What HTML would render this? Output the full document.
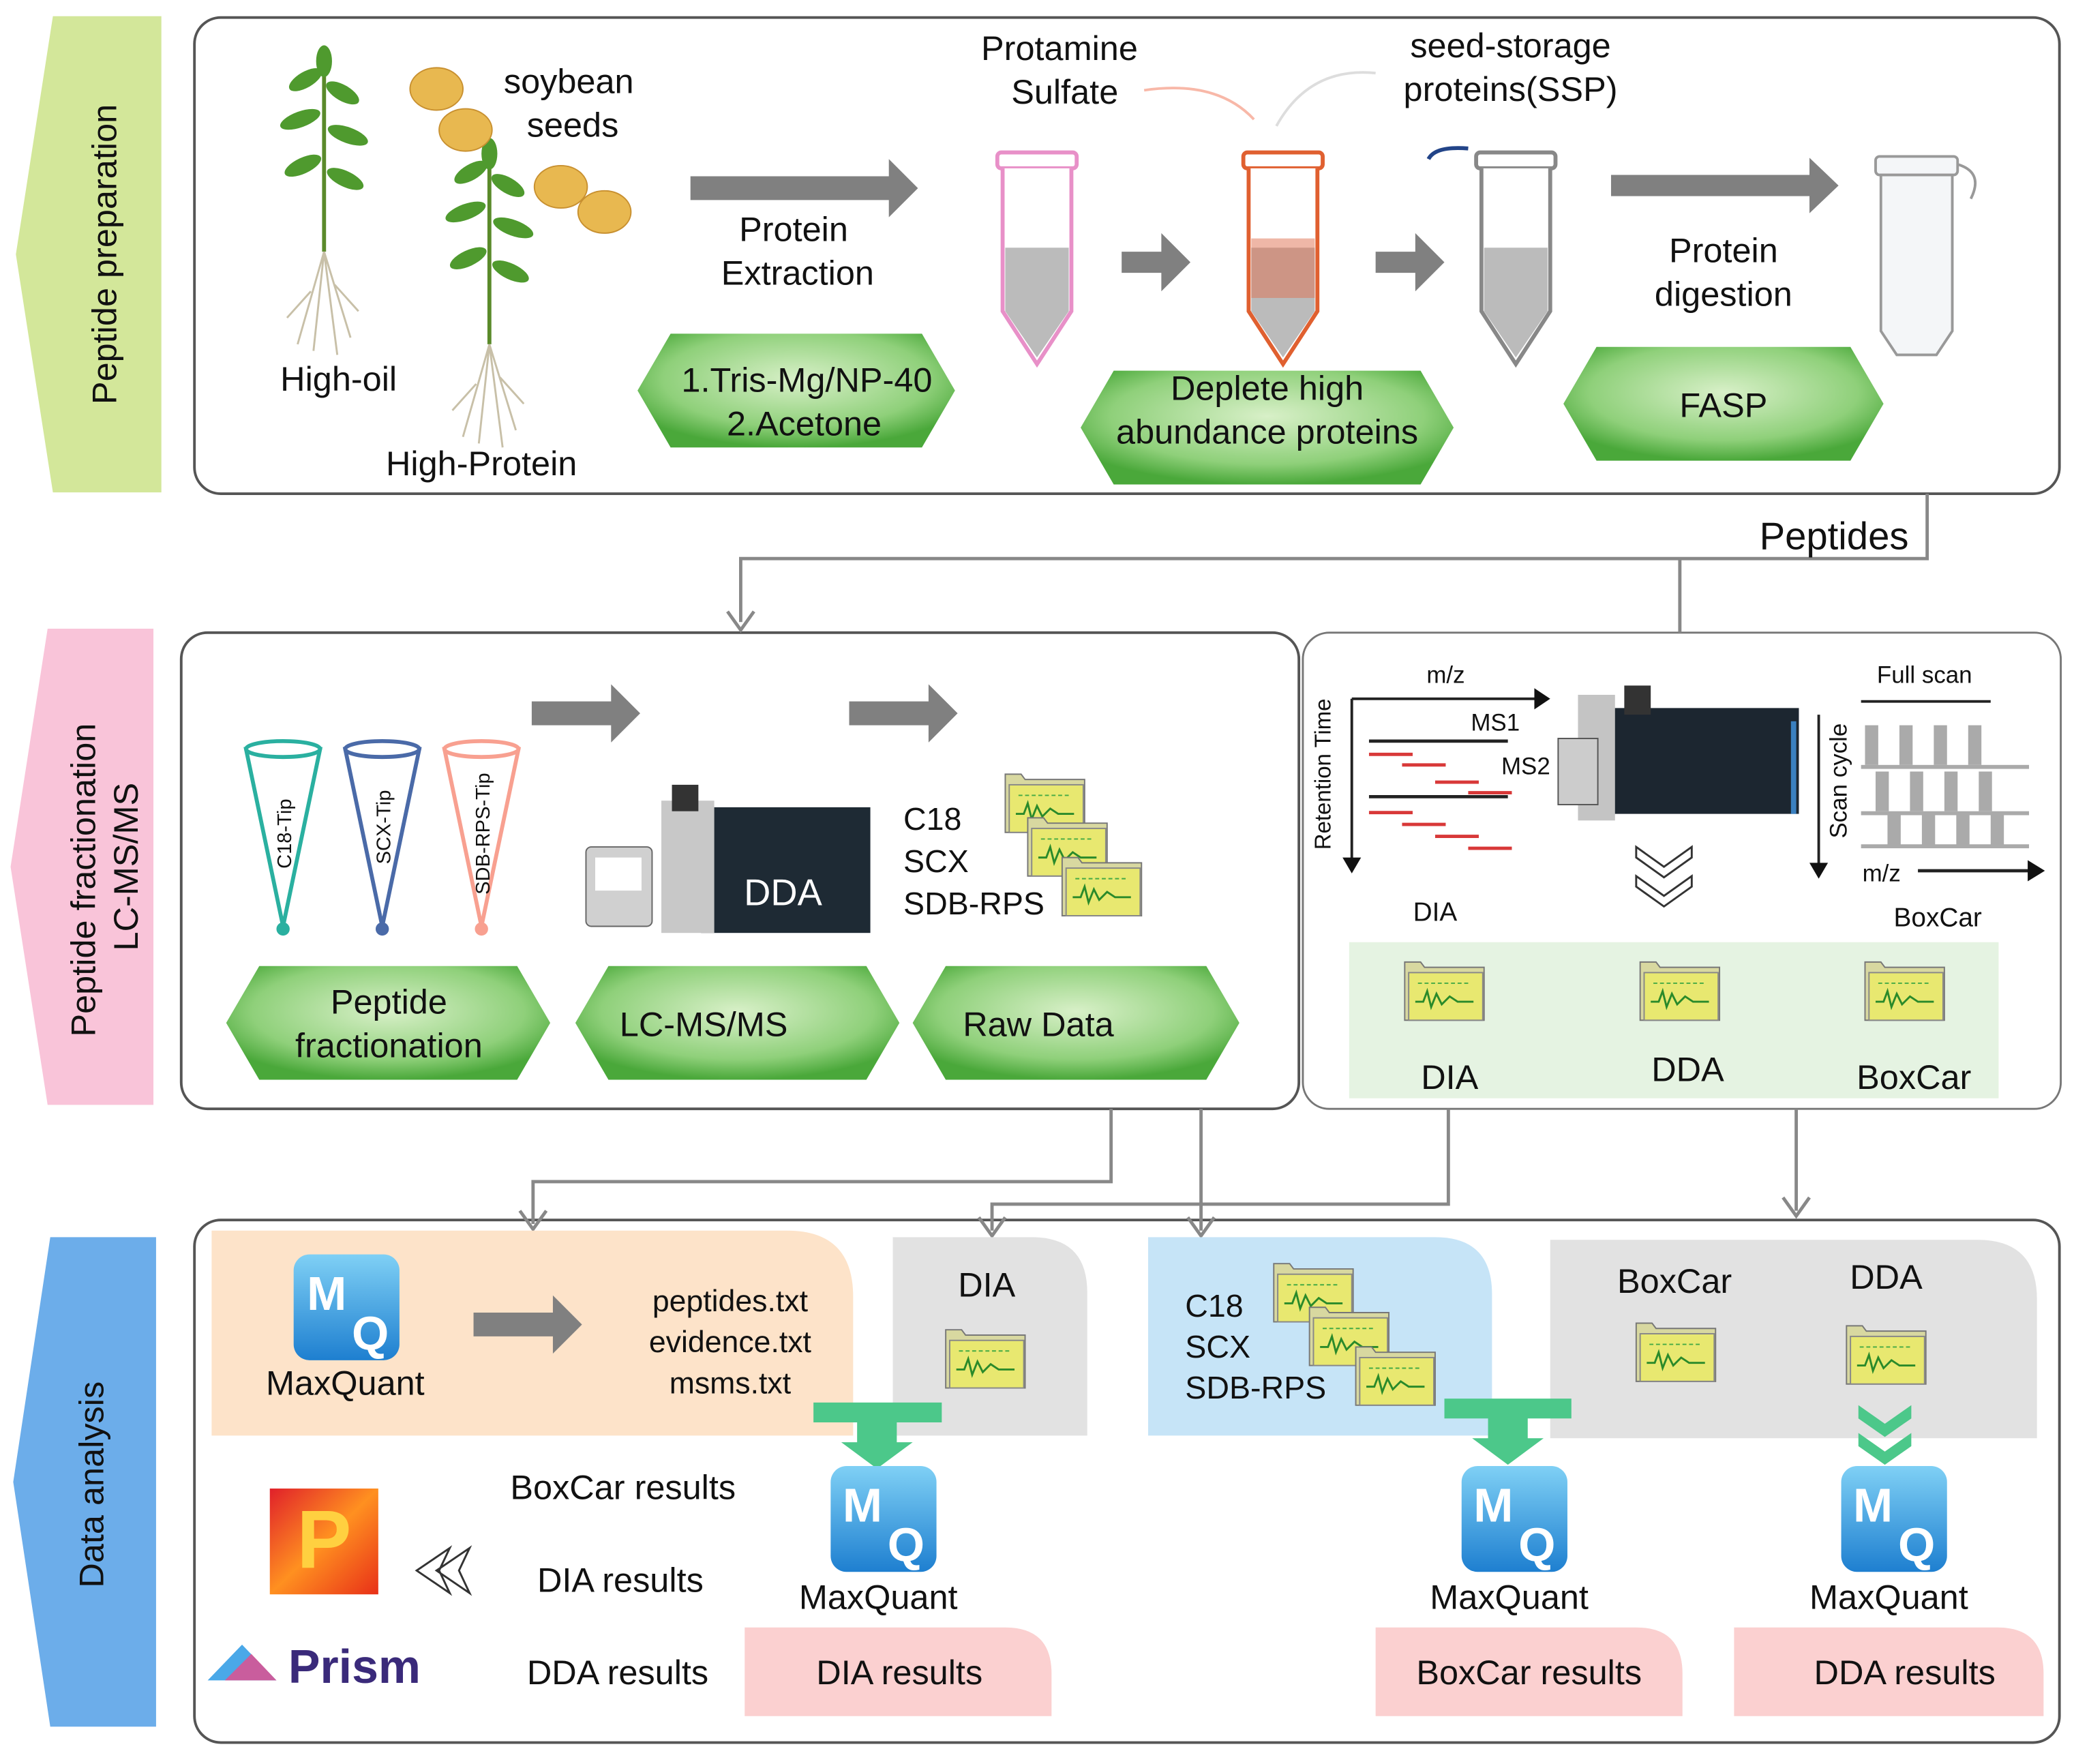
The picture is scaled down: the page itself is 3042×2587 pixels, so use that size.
<!DOCTYPE html>
<html><head><meta charset="utf-8"><style>html,body{margin:0;padding:0;background:#fff}svg{display:block}text{font-family:"Liberation Sans",sans-serif;fill:#111}</style></head><body>
<svg width="3042" height="2587" viewBox="0 0 1568 1333" xmlns="http://www.w3.org/2000/svg">
<defs>
<radialGradient id="hg" cx="50%" cy="40%" r="60%"><stop offset="0" stop-color="#d8f0c8"/><stop offset="0.7" stop-color="#8fd07a"/><stop offset="1" stop-color="#4aa83a"/></radialGradient>
<linearGradient id="mq" x1="0" y1="0" x2="0" y2="1"><stop offset="0" stop-color="#7fd0f5"/><stop offset="1" stop-color="#1e7fd0"/></linearGradient>
<linearGradient id="pg" x1="0" y1="0" x2="1" y2="1"><stop offset="0" stop-color="#e0202a"/><stop offset="0.5" stop-color="#ff9020"/><stop offset="1" stop-color="#e83018"/></linearGradient>
<g id="fold"><path d="M0 6 L0 0 L12 0 L15 4 L60 4 L60 44 L0 44Z" fill="#d8d8a0" stroke="#777"/><rect x="3" y="8" width="56" height="36" fill="#e8e870" stroke="#888"/><path d="M8 30 L14 30 L17 22 L20 34 L24 24 L28 32 L34 26 L40 30 L52 30" fill="none" stroke="#2a8a2a" stroke-width="1.5"/><path d="M10 16 h40" stroke="#4a4" stroke-dasharray="3 2"/></g>
<g id="tube"><rect x="-30" y="-10" width="60" height="12" rx="3" fill="none" stroke-width="3"/><path d="M-26 2 L-26 110 L0 150 L26 110 L26 2" fill="#fff" stroke-width="3"/><path d="M-24 62 L24 62 L24 110 L0 145 L-24 110Z" fill="#bbb" stroke="none"/></g>
<g id="plant"><path d="M0 0 L0 150" stroke="#5a8a2a" stroke-width="3"/><g fill="#4f9a2e"><ellipse cx="-14" cy="20" rx="14" ry="6" transform="rotate(-30 -14 20)"/><ellipse cx="14" cy="30" rx="14" ry="6" transform="rotate(30 14 30)"/><ellipse cx="-18" cy="50" rx="16" ry="6" transform="rotate(-20 -18 50)"/><ellipse cx="18" cy="62" rx="16" ry="6" transform="rotate(20 18 62)"/><ellipse cx="-16" cy="85" rx="15" ry="6" transform="rotate(-25 -16 85)"/><ellipse cx="16" cy="95" rx="15" ry="6" transform="rotate(25 16 95)"/><ellipse cx="0" cy="6" rx="6" ry="12"/></g><g stroke="#c8c0a8" stroke-width="1.5" fill="none"><path d="M0 150 L-20 220 M0 150 L20 215 M0 150 L-8 225 M0 150 L10 228 M-10 180 L-28 200 M8 175 L26 195"/></g></g>
</defs>

<polygon points="122,12 40,12 12,192 40,372 122,372" fill="#d3e79a"/>
<text transform="translate(88,192) rotate(-90)" text-anchor="middle" font-size="26">Peptide preparation</text>
<polygon points="116,475 36,475 8,655 36,835 116,835" fill="#f9c4d9"/>
<text transform="translate(72,665) rotate(-90)" text-anchor="middle" font-size="26">Peptide fractionation</text>
<text transform="translate(104,655) rotate(-90)" text-anchor="middle" font-size="26">LC-MS/MS</text>
<polygon points="118,935 38,935 10,1120 38,1305 118,1305" fill="#6cadea"/>
<text transform="translate(78,1122) rotate(-90)" text-anchor="middle" font-size="26">Data analysis</text>

<rect x="147" y="13" width="1410" height="360" rx="20" fill="none" stroke="#555" stroke-width="2"/>
<rect x="137" y="478" width="845" height="360" rx="20" fill="none" stroke="#555" stroke-width="2"/>
<rect x="985" y="478" width="573" height="360" rx="20" fill="none" stroke="#777" stroke-width="1.5"/>
<rect x="147" y="922" width="1410" height="395" rx="20" fill="none" stroke="#555" stroke-width="2"/>

<g stroke="#888" stroke-width="2.5" fill="none">
<path d="M1457 373 V422 H560 V470"/><path d="M1270 422 V478"/>
<path d="M840 838 V893 H403 V925"/><path d="M908 838 V930"/>
<path d="M1095 838 V910 H750 V930"/><path d="M1358 838 V915"/>
<path d="M550 462 L560 476 L570 462 M393 915 L403 929 L413 915 M898 920 L908 934 L918 920 M740 920 L750 934 L760 920 M1348 905 L1358 919 L1368 905"/>
</g>
<text x="1443" y="415" text-anchor="end" font-size="29">Peptides</text>

<use href="#plant" x="245" y="40"/>
<use href="#plant" x="370" y="110"/>
<g fill="#e8b850" stroke="#c89030"><ellipse cx="330" cy="67" rx="20" ry="16"/><ellipse cx="352" cy="98" rx="20" ry="16"/><ellipse cx="424" cy="141" rx="20" ry="16"/><ellipse cx="457" cy="160" rx="20" ry="16"/></g>
<text x="430" y="70" text-anchor="middle" font-size="26">soybean</text>
<text x="433" y="103" text-anchor="middle" font-size="26">seeds</text>
<text x="256" y="295" text-anchor="middle" font-size="26">High-oil</text>
<text x="364" y="359" text-anchor="middle" font-size="26">High-Protein</text>
<path d="M522 133 H672 V120 L694 142 L672 164 V151 H522Z" fill="#808080"/>
<text x="600" y="182" text-anchor="middle" font-size="26">Protein</text>
<text x="603" y="215" text-anchor="middle" font-size="26">Extraction</text>
<polygon points="507,252 697,252 722,295 697,338 507,338 482,295" fill="url(#hg)"/>
<text x="610" y="296" text-anchor="middle" font-size="26">1.Tris-Mg/NP-40</text>
<text x="608" y="329" text-anchor="middle" font-size="26">2.Acetone</text>
<use href="#tube" x="784" y="125" stroke="#e890c8"/>
<path d="M848 190 h30 v-14 l22 22 l-22 22 v-14 h-30z" fill="#808080"/>
<use href="#tube" x="970" y="125" stroke="#e06030"/>
<rect x="946" y="180" width="48" height="45" fill="#e07050" opacity="0.5"/>
<path d="M1040 190 h30 v-14 l22 22 l-22 22 v-14 h-30z" fill="#808080"/>
<use href="#tube" x="1146" y="125" stroke="#888"/>
<path d="M1080 120 Q1085 110 1110 112" stroke="#224488" stroke-width="3" fill="none"/>
<path d="M1218 132 H1368 V119 L1390 140 L1368 161 V148 H1218Z" fill="#808080"/>
<text x="1303" y="198" text-anchor="middle" font-size="26">Protein</text>
<text x="1303" y="231" text-anchor="middle" font-size="26">digestion</text>
<g stroke="#999" stroke-width="2" fill="#f4f6f8"><rect x="1418" y="118" width="62" height="14" rx="3"/><path d="M1422 132 V250 L1434 268 H1464 L1476 250 V132Z"/><path d="M1480 124 Q1500 130 1490 150" fill="none"/></g>
<text x="801" y="45" text-anchor="middle" font-size="26">Protamine</text>
<text x="805" y="78" text-anchor="middle" font-size="26">Sulfate</text>
<text x="1142" y="43" text-anchor="middle" font-size="26">seed-storage</text>
<text x="1142" y="76" text-anchor="middle" font-size="26">proteins(SSP)</text>
<path d="M865 68 Q920 60 948 90" stroke="#f8b8a8" stroke-width="2" fill="none"/>
<path d="M965 95 Q990 50 1040 55" stroke="#ddd" stroke-width="2" fill="none"/>
<polygon points="842,280 1074,280 1099,323 1074,366 842,366 817,323" fill="url(#hg)"/>
<text x="958" y="302" text-anchor="middle" font-size="26">Deplete high</text>
<text x="958" y="335" text-anchor="middle" font-size="26">abundance proteins</text>
<polygon points="1207,262 1399,262 1424,305 1399,348 1207,348 1182,305" fill="url(#hg)"/>
<text x="1303" y="315" text-anchor="middle" font-size="26">FASP</text>

<g stroke-width="3" fill="#fff">
<path d="M186 566 L242 566 L214 700Z" stroke="#2ab0a0"/><ellipse cx="214" cy="566" rx="28" ry="6" stroke="#2ab0a0"/><circle cx="214" cy="702" r="5" fill="#2ab0a0" stroke="none"/>
<path d="M261 566 L317 566 L289 700Z" stroke="#4a6aa8"/><ellipse cx="289" cy="566" rx="28" ry="6" stroke="#4a6aa8"/><circle cx="289" cy="702" r="5" fill="#4a6aa8" stroke="none"/>
<path d="M336 566 L392 566 L364 700Z" stroke="#f8a090"/><ellipse cx="364" cy="566" rx="28" ry="6" stroke="#f8a090"/><circle cx="364" cy="702" r="5" fill="#f8a090" stroke="none"/>
</g>
<text transform="translate(220,630) rotate(-90)" text-anchor="middle" font-size="15">C18-Tip</text>
<text transform="translate(295,625) rotate(-90)" text-anchor="middle" font-size="15">SCX-Tip</text>
<text transform="translate(370,630) rotate(-90)" text-anchor="middle" font-size="15">SDB-RPS-Tip</text>
<path d="M402 530 H462 V517 L484 539 L462 561 V548 H402Z" fill="#808080"/>
<path d="M642 530 H702 V517 L724 539 L702 561 V548 H642Z" fill="#808080"/>
<rect x="530" y="610" width="128" height="95" fill="#1e2a34"/><rect x="500" y="605" width="40" height="100" fill="#c8c8c8"/><rect x="508" y="593" width="20" height="20" fill="#333"/><rect x="443" y="640" width="50" height="60" rx="4" fill="#d0d0d0" stroke="#666"/><rect x="450" y="648" width="35" height="25" fill="#fff"/>
<text x="592" y="684" text-anchor="middle" font-size="28" style="fill:#fff">DDA</text>
<text x="683" y="627" font-size="24">C18</text><text x="683" y="659" font-size="24">SCX</text><text x="683" y="691" font-size="24">SDB-RPS</text>
<use href="#fold" x="760" y="585"/><use href="#fold" x="777" y="618"/><use href="#fold" x="803" y="648"/>
<polygon points="196,730 391,730 416,773 391,816 196,816 171,773" fill="url(#hg)"/>
<text x="294" y="766" text-anchor="middle" font-size="26">Peptide</text>
<text x="294" y="799" text-anchor="middle" font-size="26">fractionation</text>
<polygon points="460,730 655,730 680,773 655,816 460,816 435,773" fill="url(#hg)"/>
<text x="532" y="783" text-anchor="middle" font-size="26">LC-MS/MS</text>
<polygon points="715,730 912,730 937,773 912,816 715,816 690,773" fill="url(#hg)"/>
<text x="785" y="783" text-anchor="middle" font-size="26">Raw Data</text>

<path d="M1022 528 H1163" stroke="#222" stroke-width="2"/><path d="M1160 520 L1172 528 L1160 536Z" fill="#111"/>
<path d="M1022 528 V650" stroke="#222" stroke-width="2"/><path d="M1015 648 L1022 660 L1029 648Z" fill="#111"/>
<text x="1093" y="516" text-anchor="middle" font-size="18">m/z</text>
<text transform="translate(1006,585) rotate(-90)" text-anchor="middle" font-size="17">Retention Time</text>
<text x="1112" y="552" font-size="18">MS1</text><text x="1135" y="585" font-size="18">MS2</text>
<g stroke-width="2.5"><path d="M1035 560 H1140 M1035 602 H1140" stroke="#222"/><path d="M1035 570 H1068 M1060 578 H1093 M1085 591 H1118 M1110 599 H1143 M1035 614 H1068 M1060 623 H1093 M1085 632 H1118 M1110 641 H1143" stroke="#d83838"/></g>
<rect x="1215" y="535" width="145" height="80" fill="#1c2630"/><rect x="1193" y="525" width="28" height="95" fill="#c4c4c4"/><rect x="1228" y="518" width="20" height="22" fill="#333"/><rect x="1178" y="558" width="30" height="50" fill="#ccc" stroke="#555"/><path d="M1356 545 V615" stroke="#3a80c0" stroke-width="4"/>
<g fill="none" stroke="#333" stroke-width="1.5"><path d="M1237 640 L1258 655 L1279 640 L1279 648 L1258 663 L1237 648Z"/><path d="M1237 662 L1258 677 L1279 662 L1279 670 L1258 685 L1237 670Z"/></g>
<text x="1455" y="516" text-anchor="middle" font-size="18">Full scan</text>
<path d="M1407 530 H1505" stroke="#222" stroke-width="2"/>
<g fill="#aaa"><rect x="1407" y="578" width="127" height="3"/><rect x="1407" y="613" width="127" height="3"/><rect x="1407" y="638" width="127" height="3"/>
<rect x="1410" y="548" width="10" height="30"/><rect x="1436" y="548" width="10" height="30"/><rect x="1462" y="548" width="10" height="30"/><rect x="1488" y="548" width="10" height="30"/>
<rect x="1418" y="583" width="10" height="30"/><rect x="1444" y="583" width="10" height="30"/><rect x="1470" y="583" width="10" height="30"/><rect x="1496" y="583" width="10" height="30"/>
<rect x="1427" y="615" width="10" height="25"/><rect x="1453" y="615" width="10" height="25"/><rect x="1479" y="615" width="10" height="25"/><rect x="1505" y="615" width="10" height="25"/></g>
<path d="M1375 540 V655" stroke="#222" stroke-width="2"/><path d="M1368 652 L1375 664 L1382 652Z" fill="#111"/>
<text transform="translate(1396,590) rotate(-90)" text-anchor="middle" font-size="18">Scan cycle</text>
<text x="1408" y="666" font-size="18">m/z</text>
<path d="M1450 658 H1535" stroke="#222" stroke-width="2.5"/><path d="M1533 650 L1546 658 L1533 666Z" fill="#111"/>
<text x="1085" y="696" text-anchor="middle" font-size="20">DIA</text>
<text x="1465" y="700" text-anchor="middle" font-size="20">BoxCar</text>
<rect x="1020" y="712" width="491" height="118" fill="#e5f3e2"/>
<use href="#fold" x="1062" y="727"/><use href="#fold" x="1240" y="727"/><use href="#fold" x="1410" y="727"/>
<text x="1096" y="823" text-anchor="middle" font-size="26">DIA</text>
<text x="1276" y="817" text-anchor="middle" font-size="26">DDA</text>
<text x="1447" y="823" text-anchor="middle" font-size="26">BoxCar</text>

<path d="M160 930 H595 Q645 930 645 980 V1085 H160Z" fill="#fde3c9"/>
<path d="M675 935 H780 Q822 935 822 977 V1085 H675Z" fill="#e2e2e2"/>
<path d="M868 935 H1085 Q1128 935 1128 978 V1085 H868Z" fill="#c6e4f7"/>
<path d="M1172 937 H1495 Q1540 937 1540 982 V1087 H1172Z" fill="#e2e2e2"/>
<path d="M563 1230 H760 Q795 1230 795 1265 V1297 H563Z" fill="#fbd0d0"/>
<path d="M1040 1230 H1237 Q1272 1230 1272 1265 V1297 H1040Z" fill="#fbd0d0"/>
<path d="M1311 1230 H1510 Q1545 1230 1545 1265 V1297 H1311Z" fill="#fbd0d0"/>
<text x="680" y="1273" text-anchor="middle" font-size="26">DIA results</text>
<text x="1156" y="1273" text-anchor="middle" font-size="26">BoxCar results</text>
<text x="1440" y="1273" text-anchor="middle" font-size="26">DDA results</text>

<g><rect x="222" y="948" width="80" height="80" rx="12" fill="url(#mq)"/><text x="247" y="990" text-anchor="middle" font-size="36" font-weight="bold" style="fill:#fff">M</text><text x="280" y="1020" text-anchor="middle" font-size="36" font-weight="bold" style="fill:#fff">Q</text></g>
<text x="261" y="1054" text-anchor="middle" font-size="26">MaxQuant</text>
<path d="M358 992 H418 V979 L440 1001 L418 1023 V1010 H358Z" fill="#808080"/>
<text x="552" y="991" text-anchor="middle" font-size="23">peptides.txt</text>
<text x="552" y="1022" text-anchor="middle" font-size="23">evidence.txt</text>
<text x="552" y="1053" text-anchor="middle" font-size="23">msms.txt</text>
<text x="746" y="980" text-anchor="middle" font-size="26">DIA</text>
<use href="#fold" x="715" y="1005"/>
<text x="896" y="995" font-size="24">C18</text><text x="896" y="1026" font-size="24">SCX</text><text x="896" y="1057" font-size="24">SDB-RPS</text>
<use href="#fold" x="963" y="955"/><use href="#fold" x="990" y="988"/><use href="#fold" x="1025" y="1018"/>
<text x="1266" y="977" text-anchor="middle" font-size="26">BoxCar</text>
<text x="1426" y="974" text-anchor="middle" font-size="26">DDA</text>
<use href="#fold" x="1237" y="1000"/><use href="#fold" x="1396" y="1002"/>
<path d="M615 1060 H712 V1075 H678 V1090 H690 L663 1110 L636 1090 H648 V1075 H615Z" fill="#4cc88a"/>
<path d="M1092 1057 H1188 V1072 H1155 V1087 H1167 L1140 1107 L1113 1087 H1125 V1072 H1092Z" fill="#4cc88a"/>
<path d="M1405 1062 L1425 1076 L1445 1062 L1445 1072 L1425 1086 L1405 1072Z M1405 1083 L1425 1097 L1445 1083 L1445 1093 L1425 1107 L1405 1093Z" fill="#4cc88a"/>
<g><rect x="628" y="1108" width="80" height="80" rx="12" fill="url(#mq)"/><text x="652" y="1150" text-anchor="middle" font-size="36" font-weight="bold" style="fill:#fff">M</text><text x="685" y="1180" text-anchor="middle" font-size="36" font-weight="bold" style="fill:#fff">Q</text></g>
<text x="664" y="1216" text-anchor="middle" font-size="26">MaxQuant</text>
<g><rect x="1105" y="1108" width="80" height="80" rx="12" fill="url(#mq)"/><text x="1129" y="1150" text-anchor="middle" font-size="36" font-weight="bold" style="fill:#fff">M</text><text x="1162" y="1180" text-anchor="middle" font-size="36" font-weight="bold" style="fill:#fff">Q</text></g>
<text x="1141" y="1216" text-anchor="middle" font-size="26">MaxQuant</text>
<g><rect x="1392" y="1108" width="80" height="80" rx="12" fill="url(#mq)"/><text x="1416" y="1150" text-anchor="middle" font-size="36" font-weight="bold" style="fill:#fff">M</text><text x="1449" y="1180" text-anchor="middle" font-size="36" font-weight="bold" style="fill:#fff">Q</text></g>
<text x="1428" y="1216" text-anchor="middle" font-size="26">MaxQuant</text>
<text x="471" y="1133" text-anchor="middle" font-size="26">BoxCar results</text>
<text x="469" y="1203" text-anchor="middle" font-size="26">DIA results</text>
<text x="467" y="1273" text-anchor="middle" font-size="26">DDA results</text>
<rect x="204" y="1125" width="82" height="80" fill="url(#pg)"/>
<text x="245" y="1185" text-anchor="middle" font-size="62" font-weight="bold" style="fill:#ffd040">P</text>
<g fill="none" stroke="#333" stroke-width="1.5"><path d="M355 1170 L330 1187 L355 1204 L347 1187Z M340 1170 L315 1187 L340 1204 L332 1187Z"/></g>
<path d="M157 1270 L183 1243 L209 1270Z" fill="#4aa8e8"/><path d="M170 1270 L190 1250 L209 1270Z" fill="#e84a8a" opacity="0.8"/>
<text x="218" y="1272" font-size="36" font-weight="bold" style="fill:#3a2a7a">Prism</text>
</svg>
</body></html>
